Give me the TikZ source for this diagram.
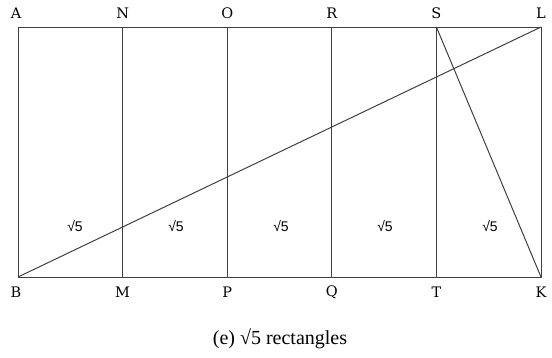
\documentclass[tikz,border=0pt]{standalone}
\usepackage{fontspec}
\setmainfont{Liberation Serif}
\newfontfamily\lblsans{Liberation Sans}
\newfontfamily\vtxfont{DejaVu Serif}
\begin{document}
\begin{tikzpicture}[x=1pt,y=-1pt,
  edge/.style={draw=black!75,line width=1pt},
  vlbl/.style={font=\vtxfont\fontsize{14.5}{14.5}\selectfont,inner sep=0pt},
  rlbl/.style={font=\lblsans\fontsize{14}{14}\selectfont,inner sep=0pt},
  captext/.style={font=\fontsize{20}{20}\selectfont,inner sep=0pt}]
\useasboundingbox (0,0) rectangle (552,357);
\coordinate (A) at (18,27);
\coordinate (N) at (122.6,27);
\coordinate (O) at (227.2,27);
\coordinate (R) at (331.8,27);
\coordinate (S) at (436.4,27);
\coordinate (L) at (541,27);
\coordinate (B) at (18,277);
\coordinate (M) at (122.6,277);
\coordinate (P) at (227.2,277);
\coordinate (Q) at (331.8,277);
\coordinate (T) at (436.4,277);
\coordinate (K) at (541,277);
\draw[edge] (A) -- (L) -- (K) -- (B) -- cycle;
\draw[edge] (N) -- (M);
\draw[edge] (O) -- (P);
\draw[edge] (R) -- (Q);
\draw[edge] (S) -- (T);
\draw[edge] (B) -- (L);
\draw[edge] (S) -- (K);
\foreach \n/\x in {A/16,N/122.6,O/227.2,R/331.8,S/436.4,L/541}
  \node[vlbl] (t\n) at (\x,13) {\n};
\foreach \n/\x in {B/16,M/122.6,P/227.2,Q/331.8,T/436.4,K/541}
  \node[vlbl] (t\n) at (\x,292) {\n};
\foreach \i/\x in {1/75,2/176,3/281,4/385,5/490}
  \node[rlbl] (r\i) at (\x,226) {√5};
\node[captext] (caption) at (280,339) {(e) √5 rectangles};
\end{tikzpicture}
\end{document}
